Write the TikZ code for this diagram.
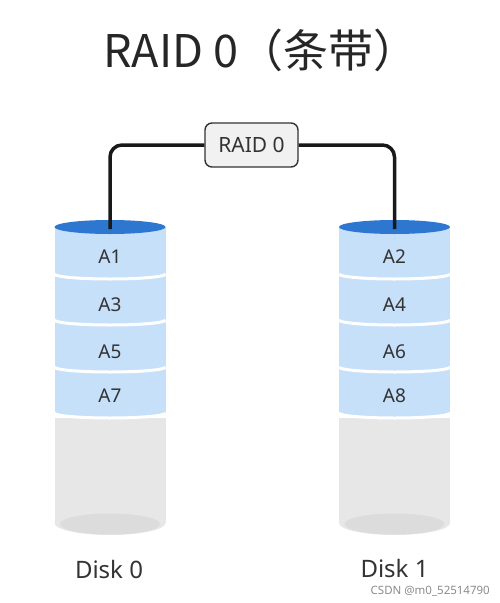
\documentclass[tikz,border=0pt]{standalone}
\usepackage{fontspec}
\setmainfont{Noto Sans}
\newfontfamily\cjk{Noto Sans CJK SC}
\definecolor{lblue}{HTML}{C6E0FA}
\definecolor{dblue}{HTML}{2D77D1}
\definecolor{bgray}{HTML}{E7E7E7}
\definecolor{igray}{HTML}{DCDCDC}
\definecolor{txt}{HTML}{333333}
\definecolor{boxfill}{HTML}{F1F1F1}
\begin{document}
\begin{tikzpicture}[x=1pt,y=-1pt,
  seg/.style={white,line width=3pt},
  lbl/.style={inner sep=0pt,text=txt,font=\fontsize{19}{21}\selectfont},
  disklbl/.style={inner sep=0pt,anchor=base,text=txt,font=\fontsize{24}{26}\selectfont},
  conn/.style={line width=3.5pt,draw=black!90,rounded corners=12pt},
  raidbox/.style={draw=txt,line width=1.4pt,fill=boxfill,rounded corners=7pt,minimum width=93pt,minimum height=44pt,inner sep=0pt,text=txt,font=\fontsize{21}{23}\selectfont}
]
\useasboundingbox (0,0) rectangle (500,603);
\fill[white] (0,0) rectangle (500,603);

% title
\node[anchor=base west,inner sep=0pt,text=black!85,font=\cjk\fontsize{45}{50}\selectfont] (title) at (103,67) {RAID 0（条带）};

% cylinders
\foreach \cx/\nm in {110/0,394.5/1}{
  \fill[bgray] (\cx-55.5,418) rectangle (\cx+55.5,523);
  \fill[bgray] (\cx,523) ellipse[x radius=55.5,y radius=12];
  \fill[igray] (\cx,524) ellipse[x radius=50,y radius=10.5];
  \fill[lblue] (\cx-55.5,227) rectangle (\cx+55.5,413);
  \fill[lblue] (\cx,413) ellipse[x radius=55.5,y radius=5];
  \foreach \y in {274,320,367,413}{
    \draw[seg] (\cx-55.5,\y) arc[start angle=180,end angle=0,x radius=55.5,y radius=5];
  }
  \fill[dblue] (\cx,227) ellipse[x radius=55.5,y radius=7];
  \coordinate (top\nm) at (\cx,229);
}

% block labels
\node[lbl] (a1) at (110,257) {A1};
\node[lbl] (a3) at (110,305) {A3};
\node[lbl] (a5) at (110,352) {A5};
\node[lbl] (a7) at (110,396) {A7};
\node[lbl] (a2) at (394.5,257) {A2};
\node[lbl] (a4) at (394.5,305) {A4};
\node[lbl] (a6) at (394.5,352) {A6};
\node[lbl] (a8) at (394.5,396) {A8};

% raid box and connectors
\node[raidbox] (raid) at (251.5,145) {RAID 0};
\draw[conn] (top0) |- (raid.west);
\draw[conn] (top1) |- (raid.east);

% disk labels
\node[disklbl] (d0) at (109,578) {Disk 0};
\node[disklbl] (d1) at (394.5,577) {Disk 1};

% watermark
\node[anchor=base east,inner sep=0pt,text=black!45,font=\fontsize{11.5}{13}\selectfont] (wm) at (490,594) {CSDN @m0\_52514790};
\end{tikzpicture}
\end{document}
